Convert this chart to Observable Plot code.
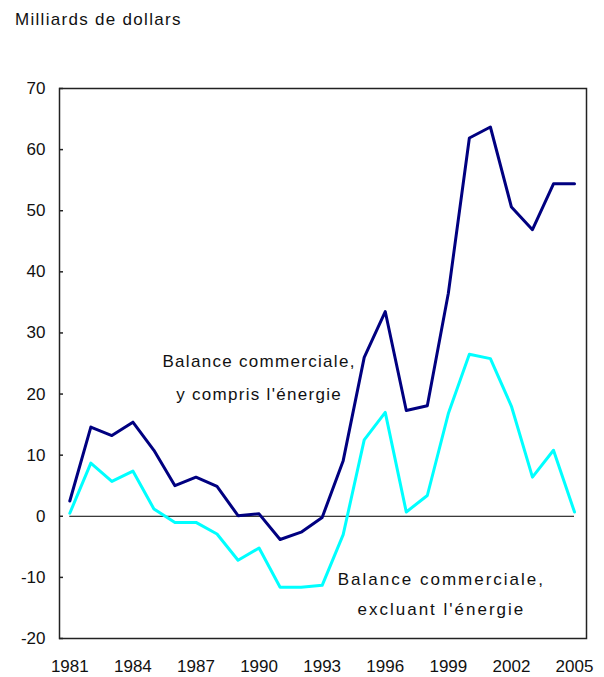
<!DOCTYPE html>
<html>
<head>
<meta charset="utf-8">
<script src="https://cdn.jsdelivr.net/npm/d3@7"></script>
<script src="https://cdn.jsdelivr.net/npm/@observablehq/plot@0.6"></script>
<style>
  html, body { margin: 0; padding: 0; background: #fff; }
  #title { height: 30px; padding-top: 10px; padding-left: 15px; font-family: "Liberation Sans", Arial, sans-serif; font-size: 17px; line-height: 20px; letter-spacing: 1.3px; color: #111; }
  svg { display: block; }
</style>
</head>
<body>
<div id="title">Milliards de dollars</div>
<div id="chart"></div>
<script>
const years = [1981,1982,1983,1984,1985,1986,1987,1988,1989,1990,1991,1992,1993,1994,1995,1996,1997,1998,1999,2000,2001,2002,2003,2004,2005];
const balanceWithEnergy = [2.5,14.6,13.2,15.4,10.8,5.0,6.4,4.9,0.1,0.4,-3.8,-2.6,-0.2,9.1,26.0,33.5,17.3,18.1,36.5,61.9,63.7,50.6,46.9,54.4,54.4];
const balanceExclEnergy = [0.5,8.7,5.7,7.4,1.2,-1.0,-1.0,-2.9,-7.2,-5.2,-11.6,-11.6,-11.3,-3.0,12.5,17.0,0.7,3.4,16.8,26.5,25.8,18.0,6.4,10.8,0.7];
const xTicks = [1981,1984,1987,1990,1993,1996,1999,2002,2005];
const yTicks = [-20,-10,0,10,20,30,40,50,60,70];
const labelWith = [{year: 1990, value: 23.4, text: "Balance commerciale,\ny compris l'énergie"}];
const labelExcl = [{year: 1998.67, value: -12.2, text: "Balance commerciale,\nexcluant l'énergie"}];

const dataWith = years.map((y, i) => ({year: y, value: balanceWithEnergy[i]}));
const dataExcl = years.map((y, i) => ({year: y, value: balanceExclEnergy[i]}));

const chart = Plot.plot({
  width: 604,
  height: 637,
  marginLeft: 59,
  marginRight: 18,
  marginTop: 48,
  marginBottom: 39,
  style: {fontFamily: "'Liberation Sans', Arial, sans-serif", fontSize: "17px", color: "#111", background: "#fff"},
  x: {domain: [1980.51, 2005.57], axis: null, label: null},
  y: {domain: [-20, 70], axis: null, label: null},
  marks: [
    Plot.frame({stroke: "#222", strokeWidth: 1.5}),
    Plot.tickY(yTicks, {y: d => d, stroke: "#222", strokeWidth: 1.5, insetRight: 523}),
    Plot.axisY({ticks: yTicks, tickSize: 0, tickPadding: 14, tickFormat: d => String(d), fontSize: 17, label: null}),
    Plot.axisX({ticks: xTicks, tickSize: 0, tickPadding: 21, tickFormat: d => String(d), fontSize: 17, label: null}),
    Plot.ruleY([0], {x1: years[0], x2: years[years.length - 1], stroke: "#000", strokeWidth: 1}),
    Plot.line(dataExcl, {x: "year", y: "value", stroke: "#00ffff", strokeWidth: 3}),
    Plot.line(dataWith, {x: "year", y: "value", stroke: "#000080", strokeWidth: 3}),
    Plot.text(labelWith, {x: "year", y: "value", text: "text", fontSize: 17, lineHeight: 1.9, fill: "#111"}),
    Plot.text(labelExcl, {x: "year", y: "value", text: "text", fontSize: 17, lineHeight: 1.75, fill: "#111"})
  ]
});
const textGroups = chart.querySelectorAll('g[aria-label="text"]');
if (textGroups[0]) textGroups[0].style.letterSpacing = "1.3px";
if (textGroups[1]) textGroups[1].style.letterSpacing = "2px";
document.getElementById("chart").appendChild(chart);
</script>
</body>
</html>
